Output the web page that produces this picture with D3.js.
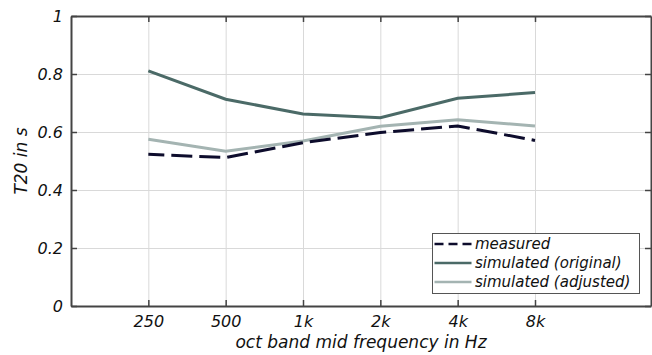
<!DOCTYPE html>
<html>
<head>
<meta charset="utf-8">
<script src="https://cdn.jsdelivr.net/npm/d3@7"></script>
<style>
  body { margin: 0; background: #fff; }
  text { font-family: "DejaVu Sans", sans-serif; font-style: italic; fill: #111; }
</style>
</head>
<body>
<div id="vis"></div>
<script>
// band labels and T20 values (s)
const bands = ["250", "500", "1k", "2k", "4k", "8k"];
const measured = [0.523, 0.512, 0.563, 0.598, 0.621, 0.571];
const simOriginal = [0.811, 0.713, 0.662, 0.649, 0.716, 0.736];
const simAdjusted = [0.575, 0.534, 0.569, 0.620, 0.642, 0.621];
const yTicks = [0, 0.2, 0.4, 0.6, 0.8, 1];

const series = [
    {name: "measured", values: measured, color: "#0d0c2c", dash: "21,7", legendDash: "9,5"},
    {name: "simulated (original)", values: simOriginal, color: "#4b6a67", dash: null, legendDash: null},
    {name: "simulated (adjusted)", values: simAdjusted, color: "#a4b4b2", dash: null, legendDash: null}
];

const svg = d3.select("#vis")
    .append("svg")
    .attr("width", 652)
    .attr("height", 355);

const mLeft = 71, mRight = 651, mTop = 16, mBottom = 306;

const x = d3.scaleLinear()
    .domain([-1, 6.5])
    .range([mLeft, mRight]);

const y = d3.scaleLinear()
    .domain([0, 1])
    .range([mBottom, mTop]);

// grid
const grid = svg.append("g").attr("class", "grid");
grid.selectAll("line.gx")
    .data(bands)
    .enter()
    .append("line")
    .attr("x1", (d, i) => x(i) + 0.5)
    .attr("x2", (d, i) => x(i) + 0.5)
    .attr("y1", mTop)
    .attr("y2", mBottom)
    .style("stroke", "#d9d9d9")
    .style("stroke-width", 1);
grid.selectAll("line.gy")
    .data(yTicks.slice(1, -1))
    .enter()
    .append("line")
    .attr("x1", mLeft)
    .attr("x2", mRight)
    .attr("y1", d => y(d) + 0.5)
    .attr("y2", d => y(d) + 0.5)
    .style("stroke", "#d9d9d9")
    .style("stroke-width", 1);

// lines
const line = d3.line()
    .x((d, i) => x(i))
    .y(d => y(d));

svg.append("g").selectAll("path")
    .data(series.slice().reverse())
    .enter()
    .append("path")
    .attr("d", d => line(d.values))
    .style("fill", "none")
    .style("stroke", d => d.color)
    .style("stroke-width", 3)
    .style("stroke-dasharray", d => d.dash)
    .style("stroke-dashoffset", d => d.dash ? 5 : null);

// axes (box with inward ticks)
const axisColor = "#444";
const tickIdx = bands.map((d, i) => i);

const xBottom = svg.append("g")
    .attr("transform", `translate(0,${mBottom})`)
    .call(d3.axisBottom(x).tickValues(tickIdx).tickFormat(i => bands[i]).tickSizeInner(-6).tickSizeOuter(0).tickPadding(10));
const xTop = svg.append("g")
    .attr("transform", `translate(0,${mTop})`)
    .call(d3.axisTop(x).tickValues(tickIdx).tickFormat("").tickSizeInner(-6).tickSizeOuter(0));
const yLeft = svg.append("g")
    .attr("transform", `translate(${mLeft},0)`)
    .call(d3.axisLeft(y).tickValues(yTicks).tickFormat(d => String(+d.toFixed(1))).tickSizeInner(-6).tickSizeOuter(0).tickPadding(8));
const yRight = svg.append("g")
    .attr("transform", `translate(${mRight},0)`)
    .call(d3.axisRight(y).tickValues(yTicks).tickFormat("").tickSizeInner(-6).tickSizeOuter(0));

[xBottom, xTop, yLeft, yRight].forEach(g => {
    g.select(".domain").style("stroke", axisColor).style("stroke-width", 2);
    g.selectAll(".tick line").style("stroke", axisColor).style("stroke-width", 1.5);
    g.selectAll(".tick text")
        .style("font-family", "DejaVu Sans, sans-serif")
        .style("font-style", "italic")
        .style("font-size", "16px")
        .style("fill", "#111");
});

// axis titles
svg.append("text")
    .attr("x", 361)
    .attr("y", 348)
    .attr("text-anchor", "middle")
    .style("font-size", "17px")
    .text("oct band mid frequency in Hz");

svg.append("text")
    .attr("transform", "translate(27,161) rotate(-90)")
    .attr("text-anchor", "middle")
    .style("font-size", "17px")
    .text("T20 in s");

// legend
const legend = svg.append("g").attr("transform", "translate(432.5,233.5)");
legend.append("rect")
    .attr("width", 207)
    .attr("height", 60)
    .style("fill", "#fff")
    .style("stroke", "#555")
    .style("stroke-width", 1);
const items = legend.selectAll("g.item")
    .data(series)
    .enter()
    .append("g")
    .attr("transform", (d, i) => `translate(0,${10.5 + i * 19})`);
items.append("line")
    .attr("x1", 2)
    .attr("x2", 39)
    .style("stroke", d => d.color)
    .style("stroke-width", 2.5)
    .style("stroke-dasharray", d => d.legendDash);
items.append("text")
    .attr("x", 42.5)
    .attr("y", 4.5)
    .style("font-size", "15px")
    .text(d => d.name);
</script>
</body>
</html>
